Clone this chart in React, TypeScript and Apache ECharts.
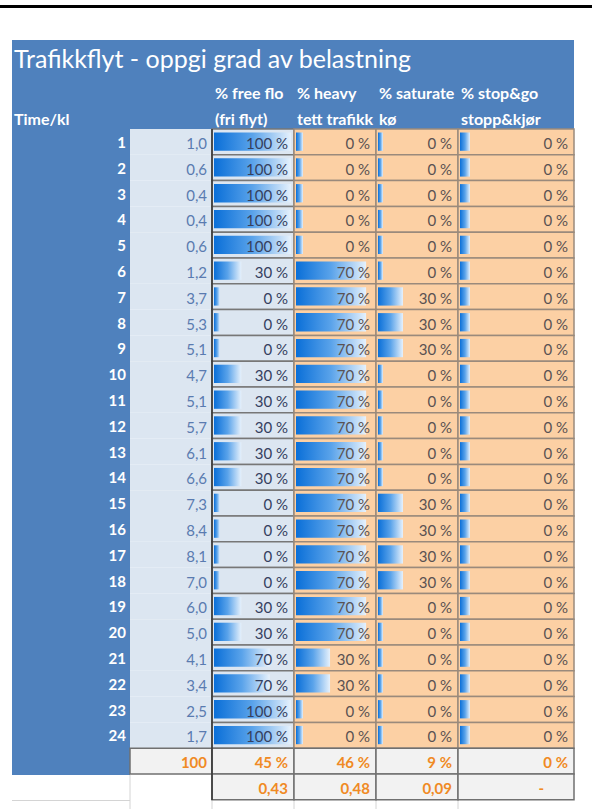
import React, { useEffect, useRef } from 'react';
import * as echarts from 'echarts';

const title = 'Trafikkflyt - oppgi grad av belastning';
const rowHeader = 'Time/kl';
const headRow1 = ['% free flow', '% heavy', '% saturated', '% stop&go'];
const headRow2 = ['(fri flyt)', 'tett trafikk', 'kø', 'stopp&kjør'];

const hours = ['1','2','3','4','5','6','7','8','9','10','11','12','13','14','15','16','17','18','19','20','21','22','23','24'];
const loadShare = [1.0,0.6,0.4,0.4,0.6,1.2,3.7,5.3,5.1,4.7,5.1,5.7,6.1,6.6,7.3,8.4,8.1,7.0,6.0,5.0,4.1,3.4,2.5,1.7];
const freeFlow = [100,100,100,100,100,30,0,0,0,30,30,30,30,30,0,0,0,0,30,30,70,70,100,100];
const heavyTraffic = [0,0,0,0,0,70,70,70,70,70,70,70,70,70,70,70,70,70,70,70,30,30,0,0];
const saturated = [0,0,0,0,0,0,30,30,30,0,0,0,0,0,30,30,30,30,0,0,0,0,0,0];
const stopGo = [0,0,0,0,0,0,0,0,0,0,0,0,0,0,0,0,0,0,0,0,0,0,0,0];
const totals = [100, 45, 46, 9, 0];
const ratios: (number | null)[] = [0.43, 0.48, 0.09, null];

const FONT = 'Lato';
const BLUE = '#4f81bd';
const PALE = '#dce6f1';
const PEACH = '#fcd0a4';
const SUMBG = '#f2f2f2';
const ORANGE = '#f08a24';
const TOP = 129;
const ROWS = 26;
const ROWH = 25.8;

type Col = { kind: string; left: number; width: number; min: number; max: number; values: number[]; total: number; ratio?: number | null };

const cols: Col[] = [
  { kind: 'load', left: 130, width: 82, min: 0, max: 10, values: loadShare, total: totals[0] },
  { kind: 'free', left: 212, width: 82, min: -11.3, max: 104.2, values: freeFlow, total: totals[1], ratio: ratios[0] },
  { kind: 'peach', left: 294, width: 82, min: -10, max: 81, values: heavyTraffic, total: totals[2], ratio: ratios[1] },
  { kind: 'peach', left: 376, width: 82, min: -10.5, max: 112.5, values: saturated, total: totals[3], ratio: ratios[2] },
  { kind: 'peach', left: 458, width: 116, min: -12, max: 104, values: stopGo, total: totals[4], ratio: ratios[3] },
];

const fmtComma = (v: number, d: number) => v.toFixed(d).replace('.', ',');

function makeRender(col: Col) {
  return (params: any, api: any) => {
    const idx = params.dataIndex;
    const cs = params.coordSys;
    const band = api.size([0, 1])[1];
    const yc = api.coord([col.min, idx])[1];
    const top = yc - band / 2;
    const left = cs.x;
    const w = cs.width;
    const children: any[] = [];
    const textStyle = (text: string, fill: string, bold: boolean) => ({
      type: 'text',
      style: {
        text,
        x: left + w - (col.kind === 'load' ? 5 : 6),
        y: yc + 1,
        align: 'right',
        verticalAlign: 'middle',
        fill,
        fontFamily: FONT,
        fontSize: 15,
        fontWeight: bold ? 'bold' : 'normal',
      },
      z2: 5,
    });
    if (idx < 24) {
      const v = api.value(0);
      if (col.kind === 'load') {
        children.push({ type: 'rect', shape: { x: left, y: top, width: w, height: band }, style: { fill: PALE } });
        children.push(textStyle(fmtComma(v, 1), '#5a7bb0', false));
      } else {
        const bg = col.kind === 'free' ? PALE : PEACH;
        const stroke = col.kind === 'free' ? '#777777' : '#9a8a7c';
        children.push({ type: 'rect', shape: { x: left, y: top, width: w, height: band }, style: { fill: bg, stroke, lineWidth: 1.5 } });
        const x1 = api.coord([v, idx])[0];
        children.push({
          type: 'rect',
          shape: { x: left + 2, y: top + 3.5, width: Math.max(2, x1 - left - 2), height: band - 7.5 },
          style: {
            fill: {
              type: 'linear', x: 0, y: 0, x2: 1, y2: 0,
              colorStops: [
                { offset: 0, color: '#0a6fd8' },
                { offset: 0.5, color: '#5aa3ea' },
                { offset: 1, color: '#e6f1fc' },
              ],
            },
          },
          z2: 2,
        });
        children.push(textStyle(`${v} %`, col.kind === 'free' ? '#35405e' : '#5a5252', false));
      }
    } else if (idx === 24) {
      children.push({ type: 'rect', shape: { x: left, y: top, width: w, height: band }, style: { fill: SUMBG, stroke: '#707070', lineWidth: 1.5 } });
      children.push(textStyle(col.kind === 'load' ? String(col.total) : `${col.total} %`, ORANGE, true));
    } else {
      if (col.kind !== 'load') {
        children.push({ type: 'rect', shape: { x: left, y: top, width: w, height: band }, style: { fill: SUMBG, stroke: '#707070', lineWidth: 1.5 } });
        if (col.ratio == null) {
          children.push({
            type: 'text',
            style: { text: '-', x: left + w - 30, y: yc + 1, align: 'right', verticalAlign: 'middle', fill: ORANGE, fontFamily: FONT, fontSize: 15, fontWeight: 'bold' },
            z2: 5,
          });
        } else {
          children.push(textStyle(fmtComma(col.ratio, 2), ORANGE, true));
        }
      }
    }
    return { type: 'group', children };
  };
}

export default function App() {
  const ref = useRef<HTMLDivElement>(null);
  useEffect(() => {
    if (!ref.current) return;
    const chart = echarts.init(ref.current, null, { renderer: 'svg' });
    const yCats = [...hours, '', ''];
    const grids = cols.map((c) => ({ left: c.left, top: TOP, width: c.width, height: ROWS * ROWH, containLabel: false }));
    const xAxes = cols.map((c, i) => ({ type: 'value', gridIndex: i, min: c.min, max: c.max, show: false }));
    const yAxes = cols.map((c, i) => ({
      type: 'category',
      gridIndex: i,
      data: yCats,
      inverse: true,
      show: i === 0,
      axisLine: { show: false },
      axisTick: { show: false },
      splitLine: { show: false },
      axisLabel: { show: i === 0, color: '#ffffff', fontWeight: 'bold', fontFamily: FONT, fontSize: 15, margin: 4 },
    }));
    const series = cols.map((c, i) => ({
      type: 'custom',
      xAxisIndex: i,
      yAxisIndex: i,
      renderItem: makeRender(c),
      encode: { x: 0, y: 1 },
      data: [...c.values.map((v, r) => [v, r]), [c.total, 24], [c.ratio ?? 0, 25]],
      clip: false,
    }));
    const headTexts: any[] = [];
    cols.slice(1).forEach((c, i) => {
      headTexts.push({
        type: 'text', left: c.left + 3, top: 84, z: 10,
        style: { text: headRow1[i], fill: '#fff', fontFamily: FONT, fontWeight: 'bold', fontSize: 16, width: c.width - 4, overflow: 'truncate', ellipsis: '' },
      });
      headTexts.push({
        type: 'text', left: c.left + 3, top: 110, z: 10,
        style: { text: headRow2[i], fill: '#fff', fontFamily: FONT, fontWeight: 'bold', fontSize: 16, width: c.width - 4, overflow: 'truncate', ellipsis: '' },
      });
    });
    chart.setOption({
      animation: false,
      backgroundColor: '#ffffff',
      textStyle: { fontFamily: FONT },
      grid: grids,
      xAxis: xAxes,
      yAxis: yAxes,
      series,
      graphic: [
        { type: 'rect', shape: { x: 0, y: 5, width: 592, height: 3 }, style: { fill: '#000' }, z: -10 },
        { type: 'rect', shape: { x: 12, y: 40, width: 562, height: 89 }, style: { fill: BLUE }, z: -10 },
        { type: 'rect', shape: { x: 12, y: 40, width: 118, height: 735 }, style: { fill: BLUE }, z: -10 },
        { type: 'text', left: 14, top: 45, z: 10, style: { text: title, fill: '#fff', fontFamily: FONT, fontSize: 25 } },
        { type: 'text', left: 14, top: 110, z: 10, style: { text: rowHeader, fill: '#fff', fontFamily: FONT, fontWeight: 'bold', fontSize: 16 } },
        ...headTexts,
        { type: 'line', shape: { x1: 212, y1: 129, x2: 212, y2: 800 }, style: { stroke: '#333', lineWidth: 1.5 }, z: 10 },
        { type: 'line', shape: { x1: 12, y1: 800.5, x2: 130, y2: 800.5 }, style: { stroke: '#d4d4d4', lineWidth: 1 }, z: -5 },
        { type: 'line', shape: { x1: 130, y1: 775, x2: 130, y2: 809 }, style: { stroke: '#d4d4d4', lineWidth: 1 }, z: -5 },
        { type: 'line', shape: { x1: 212, y1: 800, x2: 212, y2: 809 }, style: { stroke: '#d4d4d4', lineWidth: 1 }, z: -5 },
        { type: 'line', shape: { x1: 294, y1: 800, x2: 294, y2: 809 }, style: { stroke: '#d4d4d4', lineWidth: 1 }, z: -5 },
        { type: 'line', shape: { x1: 376, y1: 800, x2: 376, y2: 809 }, style: { stroke: '#d4d4d4', lineWidth: 1 }, z: -5 },
        { type: 'line', shape: { x1: 458, y1: 800, x2: 458, y2: 809 }, style: { stroke: '#d4d4d4', lineWidth: 1 }, z: -5 },
      ],
    });
    return () => chart.dispose();
  }, []);
  return <div ref={ref} style={{ position: 'fixed', left: 0, top: 0, width: 592, height: 809 }} />;
}
